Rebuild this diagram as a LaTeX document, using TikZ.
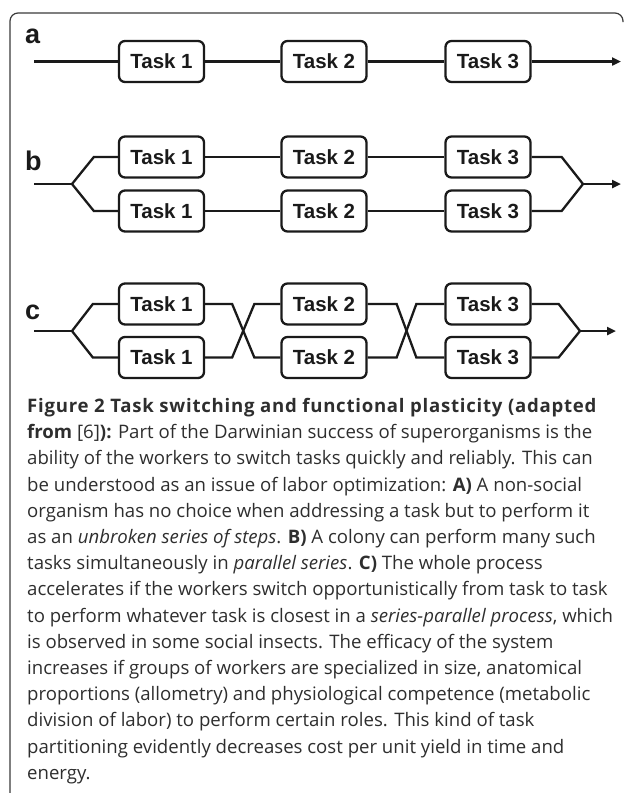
\documentclass[tikz,border=0pt]{standalone}
\usepackage{fontspec}
\setmainfont{Liberation Sans}
\newfontfamily\capfont{Open Sans}
\usetikzlibrary{arrows.meta}
\definecolor{ink}{HTML}{1A1A1A}
\definecolor{captext}{HTML}{2E2E2E}
\definecolor{framecol}{HTML}{3A3A3A}
\begin{document}
\begin{tikzpicture}[x=1pt,y=-1pt,
  task/.style={draw=ink, line width=2.3pt, rounded corners=6pt, minimum width=85pt, minimum height=41pt, inner sep=0pt, font=\fontsize{20.5}{24}\selectfont\bfseries, text=ink},
  link/.style={draw=ink, line width=2.3pt},
  arr/.style={link, -{Triangle[length=9pt,width=8pt]}},
  lbl/.style={font=\fontsize{27}{30}\selectfont\bfseries, text=ink, inner sep=0pt, anchor=base west},
  captxt/.style={anchor=north west, inner sep=0pt, align=left, text=captext, font=\capfont\fontsize{18.6}{26.2}\selectfont}
]
\useasboundingbox (0,0) rectangle (629,793);
% frame
\draw[framecol, line width=1.2pt, rounded corners=8pt] (10,793) -- (10,13) -- (623,13) -- (623,22);
% labels
\node[lbl] (la) at (25,43) {a};
\node[lbl] (lb) at (25,170) {b};
\node[lbl] (lc) at (25,319) {c};
% row a
\node[task] (a1) at (161.5,61.5) {Task 1};
\node[task] (a2) at (324,61.5) {Task 2};
\node[task] (a3) at (488,61.5) {Task 3};
\coordinate (ain) at (34,61.5);
\coordinate (aout) at (621,61.5);
\draw[link] (ain) -- (a1.west);
\draw[link] (a1) -- (a2);
\draw[link] (a2) -- (a3);
\draw[arr] (a3.east) -- (aout);
% row b
\node[task] (b1u) at (161.5,157) {Task 1};
\node[task] (b2u) at (324,157) {Task 2};
\node[task] (b3u) at (488,157) {Task 3};
\node[task] (b1l) at (161.5,211) {Task 1};
\node[task] (b2l) at (324,211) {Task 2};
\node[task] (b3l) at (488,211) {Task 3};
\coordinate (bin) at (34,184);
\coordinate (bsplit) at (72,184);
\coordinate (bmerge) at (583,184);
\coordinate (bout) at (621,184);
\draw[link] (bin) -- (bsplit);
\draw[link] (bsplit) -- ([xshift=-24pt]b1u.west) -- (b1u.west);
\draw[link] (bsplit) -- ([xshift=-24pt]b1l.west) -- (b1l.west);
\draw[link] (b1u) -- (b2u);
\draw[link] (b2u) -- (b3u);
\draw[link] (b1l) -- (b2l);
\draw[link] (b2l) -- (b3l);
\draw[link] (b3u.east) -- ([xshift=30pt]b3u.east) -- (bmerge);
\draw[link] (b3l.east) -- ([xshift=30pt]b3l.east) -- (bmerge);
\draw[arr] (bmerge) -- (bout);
% row c
\node[task] (c1u) at (161.5,304) {Task 1};
\node[task] (c2u) at (324,304) {Task 2};
\node[task] (c3u) at (488,304) {Task 3};
\node[task] (c1l) at (161.5,357.5) {Task 1};
\node[task] (c2l) at (324,357.5) {Task 2};
\node[task] (c3l) at (488,357.5) {Task 3};
\coordinate (cin) at (34,331);
\coordinate (csplit) at (72,331);
\coordinate (cmerge) at (580,331);
\coordinate (cout) at (616,331);
\draw[link] (cin) -- (csplit);
\draw[link] (csplit) -- ([xshift=-25pt]c1u.west) -- (c1u.west);
\draw[link] (csplit) -- ([xshift=-25pt]c1l.west) -- (c1l.west);
\draw[link] (c1u.east) -- ([xshift=27pt]c1u.east) -- ([xshift=-26pt]c2l.west) -- (c2l.west);
\draw[link] (c1l.east) -- ([xshift=27pt]c1l.east) -- ([xshift=-26pt]c2u.west) -- (c2u.west);
\draw[link] (c2u.east) -- ([xshift=29pt]c2u.east) -- ([xshift=-28pt]c3l.west) -- (c3l.west);
\draw[link] (c2l.east) -- ([xshift=29pt]c2l.east) -- ([xshift=-28pt]c3u.west) -- (c3u.west);
\draw[link] (c3u.east) -- ([xshift=27pt]c3u.east) -- (cmerge);
\draw[link] (c3l.east) -- ([xshift=27pt]c3l.east) -- (cmerge);
\draw[arr] (cmerge) -- (cout);
% caption
\node[captxt] (cap) at (27,398) {%
{\bfseries\addfontfeature{LetterSpace=4}Figure 2 Task switching and functional plasticity (adapted}\\
\textbf{from} [6]\textbf{):} Part of the Darwinian success of superorganisms is the\\
ability of the workers to switch tasks quickly and reliably. This can\\
be understood as an issue of labor optimization: \textbf{A)} A non-social\\
organism has no choice when addressing a task but to perform it\\
as an \textit{unbroken series of steps}. \textbf{B)} A colony can perform many such\\
tasks simultaneously in \textit{parallel series}. \textbf{C)} The whole process\\
accelerates if the workers switch opportunistically from task to task\\
to perform whatever task is closest in a \textit{series-parallel process}, which\\
is observed in some social insects. The efficacy of the system\\
increases if groups of workers are specialized in size, anatomical\\
proportions (allometry) and physiological competence (metabolic\\
division of labor) to perform certain roles. This kind of task\\
partitioning evidently decreases cost per unit yield in time and\\
energy.};
\end{tikzpicture}
\end{document}
